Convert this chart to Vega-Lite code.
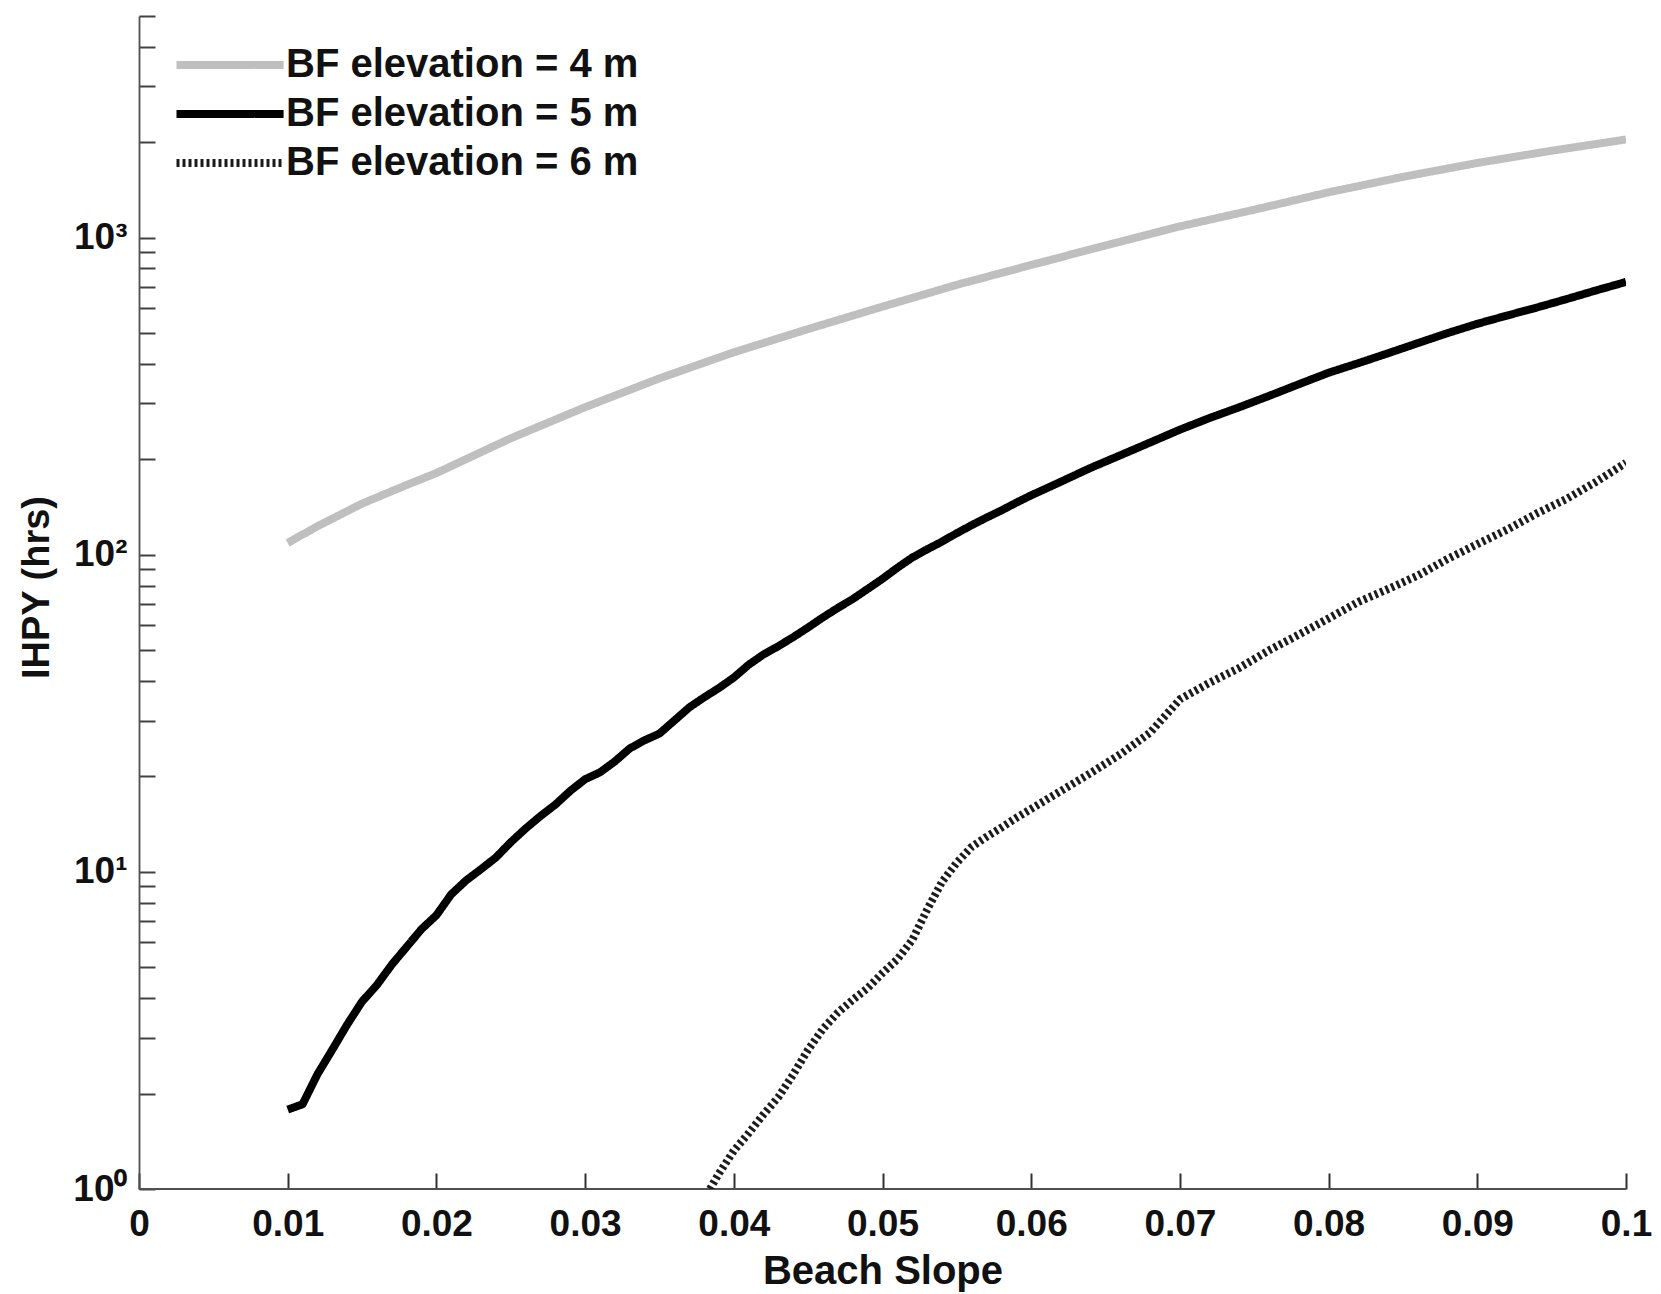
{
  "$schema": "https://vega.github.io/schema/vega-lite/v6.json",
  "width": 1487,
  "height": 1173,
  "autosize": {"type": "none"},
  "padding": {"left": 139, "top": 16, "right": 35, "bottom": 105},
  "background": "white",
  "config": {
    "view": {"stroke": null},
    "font": "Liberation Sans",
    "axis": {
      "grid": false,
      "domainColor": "#505050",
      "tickColor": "#404040",
      "domainWidth": 1.8,
      "tickWidth": 2,
      "labelFont": "Liberation Sans",
      "labelFontWeight": "bold",
      "labelColor": "#111111",
      "titleFont": "Liberation Sans",
      "titleFontWeight": "bold",
      "titleColor": "#111111"
    }
  },
  "data": {
    "values": [
      {"slope": 0.010, "ihpy": 109, "series": "BF elevation = 4 m"},
      {"slope": 0.012, "ihpy": 123, "series": "BF elevation = 4 m"},
      {"slope": 0.015, "ihpy": 145, "series": "BF elevation = 4 m"},
      {"slope": 0.018, "ihpy": 166, "series": "BF elevation = 4 m"},
      {"slope": 0.020, "ihpy": 181, "series": "BF elevation = 4 m"},
      {"slope": 0.025, "ihpy": 233, "series": "BF elevation = 4 m"},
      {"slope": 0.030, "ihpy": 292, "series": "BF elevation = 4 m"},
      {"slope": 0.035, "ihpy": 360, "series": "BF elevation = 4 m"},
      {"slope": 0.040, "ihpy": 435, "series": "BF elevation = 4 m"},
      {"slope": 0.045, "ihpy": 515, "series": "BF elevation = 4 m"},
      {"slope": 0.050, "ihpy": 606, "series": "BF elevation = 4 m"},
      {"slope": 0.055, "ihpy": 710, "series": "BF elevation = 4 m"},
      {"slope": 0.060, "ihpy": 820, "series": "BF elevation = 4 m"},
      {"slope": 0.065, "ihpy": 945, "series": "BF elevation = 4 m"},
      {"slope": 0.070, "ihpy": 1085, "series": "BF elevation = 4 m"},
      {"slope": 0.075, "ihpy": 1225, "series": "BF elevation = 4 m"},
      {"slope": 0.080, "ihpy": 1390, "series": "BF elevation = 4 m"},
      {"slope": 0.085, "ihpy": 1555, "series": "BF elevation = 4 m"},
      {"slope": 0.090, "ihpy": 1720, "series": "BF elevation = 4 m"},
      {"slope": 0.095, "ihpy": 1880, "series": "BF elevation = 4 m"},
      {"slope": 0.100, "ihpy": 2040, "series": "BF elevation = 4 m"},

      {"slope": 0.010, "ihpy": 1.78, "series": "BF elevation = 5 m"},
      {"slope": 0.011, "ihpy": 1.85, "series": "BF elevation = 5 m"},
      {"slope": 0.012, "ihpy": 2.3, "series": "BF elevation = 5 m"},
      {"slope": 0.013, "ihpy": 2.75, "series": "BF elevation = 5 m"},
      {"slope": 0.014, "ihpy": 3.3, "series": "BF elevation = 5 m"},
      {"slope": 0.015, "ihpy": 3.9, "series": "BF elevation = 5 m"},
      {"slope": 0.016, "ihpy": 4.4, "series": "BF elevation = 5 m"},
      {"slope": 0.017, "ihpy": 5.1, "series": "BF elevation = 5 m"},
      {"slope": 0.018, "ihpy": 5.8, "series": "BF elevation = 5 m"},
      {"slope": 0.019, "ihpy": 6.6, "series": "BF elevation = 5 m"},
      {"slope": 0.020, "ihpy": 7.3, "series": "BF elevation = 5 m"},
      {"slope": 0.021, "ihpy": 8.5, "series": "BF elevation = 5 m"},
      {"slope": 0.022, "ihpy": 9.4, "series": "BF elevation = 5 m"},
      {"slope": 0.023, "ihpy": 10.2, "series": "BF elevation = 5 m"},
      {"slope": 0.024, "ihpy": 11.1, "series": "BF elevation = 5 m"},
      {"slope": 0.025, "ihpy": 12.4, "series": "BF elevation = 5 m"},
      {"slope": 0.026, "ihpy": 13.7, "series": "BF elevation = 5 m"},
      {"slope": 0.027, "ihpy": 15.0, "series": "BF elevation = 5 m"},
      {"slope": 0.028, "ihpy": 16.3, "series": "BF elevation = 5 m"},
      {"slope": 0.029, "ihpy": 18.0, "series": "BF elevation = 5 m"},
      {"slope": 0.030, "ihpy": 19.6, "series": "BF elevation = 5 m"},
      {"slope": 0.031, "ihpy": 20.6, "series": "BF elevation = 5 m"},
      {"slope": 0.032, "ihpy": 22.3, "series": "BF elevation = 5 m"},
      {"slope": 0.033, "ihpy": 24.5, "series": "BF elevation = 5 m"},
      {"slope": 0.034, "ihpy": 26.0, "series": "BF elevation = 5 m"},
      {"slope": 0.035, "ihpy": 27.3, "series": "BF elevation = 5 m"},
      {"slope": 0.036, "ihpy": 30.0, "series": "BF elevation = 5 m"},
      {"slope": 0.037, "ihpy": 33.0, "series": "BF elevation = 5 m"},
      {"slope": 0.038, "ihpy": 35.5, "series": "BF elevation = 5 m"},
      {"slope": 0.039, "ihpy": 38.0, "series": "BF elevation = 5 m"},
      {"slope": 0.040, "ihpy": 41.0, "series": "BF elevation = 5 m"},
      {"slope": 0.041, "ihpy": 45.0, "series": "BF elevation = 5 m"},
      {"slope": 0.042, "ihpy": 48.5, "series": "BF elevation = 5 m"},
      {"slope": 0.043, "ihpy": 51.5, "series": "BF elevation = 5 m"},
      {"slope": 0.044, "ihpy": 55.0, "series": "BF elevation = 5 m"},
      {"slope": 0.045, "ihpy": 59.0, "series": "BF elevation = 5 m"},
      {"slope": 0.046, "ihpy": 63.5, "series": "BF elevation = 5 m"},
      {"slope": 0.047, "ihpy": 68.0, "series": "BF elevation = 5 m"},
      {"slope": 0.048, "ihpy": 72.5, "series": "BF elevation = 5 m"},
      {"slope": 0.049, "ihpy": 78.0, "series": "BF elevation = 5 m"},
      {"slope": 0.050, "ihpy": 84.0, "series": "BF elevation = 5 m"},
      {"slope": 0.051, "ihpy": 91.0, "series": "BF elevation = 5 m"},
      {"slope": 0.052, "ihpy": 98.0, "series": "BF elevation = 5 m"},
      {"slope": 0.053, "ihpy": 104, "series": "BF elevation = 5 m"},
      {"slope": 0.054, "ihpy": 110, "series": "BF elevation = 5 m"},
      {"slope": 0.055, "ihpy": 117, "series": "BF elevation = 5 m"},
      {"slope": 0.056, "ihpy": 124, "series": "BF elevation = 5 m"},
      {"slope": 0.057, "ihpy": 131, "series": "BF elevation = 5 m"},
      {"slope": 0.058, "ihpy": 138, "series": "BF elevation = 5 m"},
      {"slope": 0.059, "ihpy": 146, "series": "BF elevation = 5 m"},
      {"slope": 0.060, "ihpy": 154, "series": "BF elevation = 5 m"},
      {"slope": 0.062, "ihpy": 170, "series": "BF elevation = 5 m"},
      {"slope": 0.064, "ihpy": 188, "series": "BF elevation = 5 m"},
      {"slope": 0.066, "ihpy": 206, "series": "BF elevation = 5 m"},
      {"slope": 0.068, "ihpy": 226, "series": "BF elevation = 5 m"},
      {"slope": 0.070, "ihpy": 248, "series": "BF elevation = 5 m"},
      {"slope": 0.072, "ihpy": 270, "series": "BF elevation = 5 m"},
      {"slope": 0.074, "ihpy": 292, "series": "BF elevation = 5 m"},
      {"slope": 0.076, "ihpy": 317, "series": "BF elevation = 5 m"},
      {"slope": 0.078, "ihpy": 345, "series": "BF elevation = 5 m"},
      {"slope": 0.080, "ihpy": 375, "series": "BF elevation = 5 m"},
      {"slope": 0.082, "ihpy": 402, "series": "BF elevation = 5 m"},
      {"slope": 0.084, "ihpy": 432, "series": "BF elevation = 5 m"},
      {"slope": 0.086, "ihpy": 465, "series": "BF elevation = 5 m"},
      {"slope": 0.088, "ihpy": 500, "series": "BF elevation = 5 m"},
      {"slope": 0.090, "ihpy": 535, "series": "BF elevation = 5 m"},
      {"slope": 0.092, "ihpy": 568, "series": "BF elevation = 5 m"},
      {"slope": 0.094, "ihpy": 602, "series": "BF elevation = 5 m"},
      {"slope": 0.096, "ihpy": 640, "series": "BF elevation = 5 m"},
      {"slope": 0.098, "ihpy": 682, "series": "BF elevation = 5 m"},
      {"slope": 0.100, "ihpy": 725, "series": "BF elevation = 5 m"},

      {"slope": 0.0384, "ihpy": 1.0, "series": "BF elevation = 6 m"},
      {"slope": 0.039, "ihpy": 1.12, "series": "BF elevation = 6 m"},
      {"slope": 0.040, "ihpy": 1.32, "series": "BF elevation = 6 m"},
      {"slope": 0.041, "ihpy": 1.5, "series": "BF elevation = 6 m"},
      {"slope": 0.042, "ihpy": 1.72, "series": "BF elevation = 6 m"},
      {"slope": 0.043, "ihpy": 1.95, "series": "BF elevation = 6 m"},
      {"slope": 0.044, "ihpy": 2.3, "series": "BF elevation = 6 m"},
      {"slope": 0.045, "ihpy": 2.75, "series": "BF elevation = 6 m"},
      {"slope": 0.046, "ihpy": 3.2, "series": "BF elevation = 6 m"},
      {"slope": 0.047, "ihpy": 3.6, "series": "BF elevation = 6 m"},
      {"slope": 0.048, "ihpy": 3.95, "series": "BF elevation = 6 m"},
      {"slope": 0.049, "ihpy": 4.3, "series": "BF elevation = 6 m"},
      {"slope": 0.050, "ihpy": 4.8, "series": "BF elevation = 6 m"},
      {"slope": 0.051, "ihpy": 5.3, "series": "BF elevation = 6 m"},
      {"slope": 0.052, "ihpy": 6.1, "series": "BF elevation = 6 m"},
      {"slope": 0.053, "ihpy": 7.6, "series": "BF elevation = 6 m"},
      {"slope": 0.054, "ihpy": 9.3, "series": "BF elevation = 6 m"},
      {"slope": 0.055, "ihpy": 10.7, "series": "BF elevation = 6 m"},
      {"slope": 0.056, "ihpy": 12.0, "series": "BF elevation = 6 m"},
      {"slope": 0.057, "ihpy": 12.9, "series": "BF elevation = 6 m"},
      {"slope": 0.058, "ihpy": 13.8, "series": "BF elevation = 6 m"},
      {"slope": 0.059, "ihpy": 14.8, "series": "BF elevation = 6 m"},
      {"slope": 0.060, "ihpy": 15.8, "series": "BF elevation = 6 m"},
      {"slope": 0.062, "ihpy": 18.0, "series": "BF elevation = 6 m"},
      {"slope": 0.064, "ihpy": 20.5, "series": "BF elevation = 6 m"},
      {"slope": 0.066, "ihpy": 23.5, "series": "BF elevation = 6 m"},
      {"slope": 0.068, "ihpy": 27.5, "series": "BF elevation = 6 m"},
      {"slope": 0.070, "ihpy": 35.0, "series": "BF elevation = 6 m"},
      {"slope": 0.072, "ihpy": 39.5, "series": "BF elevation = 6 m"},
      {"slope": 0.074, "ihpy": 44.0, "series": "BF elevation = 6 m"},
      {"slope": 0.076, "ihpy": 50.0, "series": "BF elevation = 6 m"},
      {"slope": 0.078, "ihpy": 56.0, "series": "BF elevation = 6 m"},
      {"slope": 0.080, "ihpy": 63.0, "series": "BF elevation = 6 m"},
      {"slope": 0.082, "ihpy": 71.0, "series": "BF elevation = 6 m"},
      {"slope": 0.084, "ihpy": 78.0, "series": "BF elevation = 6 m"},
      {"slope": 0.086, "ihpy": 86.0, "series": "BF elevation = 6 m"},
      {"slope": 0.088, "ihpy": 97.0, "series": "BF elevation = 6 m"},
      {"slope": 0.090, "ihpy": 108, "series": "BF elevation = 6 m"},
      {"slope": 0.092, "ihpy": 120, "series": "BF elevation = 6 m"},
      {"slope": 0.094, "ihpy": 135, "series": "BF elevation = 6 m"},
      {"slope": 0.096, "ihpy": 150, "series": "BF elevation = 6 m"},
      {"slope": 0.098, "ihpy": 170, "series": "BF elevation = 6 m"},
      {"slope": 0.100, "ihpy": 195, "series": "BF elevation = 6 m"}
    ]
  },
  "layer": [
    {
      "mark": {"type": "rule", "color": "#505050", "strokeWidth": 1.8},
      "encoding": {
        "y": {
          "datum": 1, "type": "quantitative",
          "scale": {"type": "log", "domain": [1, 5000], "nice": false},
          "axis": {
            "orient": "left",
            "title": "IHPY (hrs)",
            "values": [1, 2, 3, 4, 5, 6, 7, 8, 9, 10, 20, 30, 40, 50, 60, 70, 80, 90, 100, 200, 300, 400, 500, 600, 700, 800, 900, 1000, 2000, 3000, 4000, 5000],
            "labelExpr": "indexof([1, 10, 100, 1000], datum.value) >= 0 ? '10' + ['⁰','¹','²','³'][round(log(datum.value)/LN10)] : ''",
            "tickSize": -16,
            "labelFontSize": 37,
            "labelPadding": 28,
            "labelFlush": false,
            "labelOverlap": false,
            "titleFontSize": 38,
            "titlePadding": 16,
            "titleY": 571,
            "encode": {"ticks": {"update": {"x": {"value": 0}, "x2": {"signal": "indexof([1, 10, 100, 1000], datum.value) >= 0 ? 16 : 8"}}}}
          }
        }
      }
    },
    {
      "mark": {"type": "line", "strokeWidth": 8, "strokeCap": "butt", "strokeJoin": "round", "clip": true},
      "encoding": {
        "x": {
          "field": "slope", "type": "quantitative",
          "scale": {"domain": [0, 0.1], "nice": false, "zero": false},
          "axis": {
            "title": "Beach Slope",
            "values": [0, 0.01, 0.02, 0.03, 0.04, 0.05, 0.06, 0.07, 0.08, 0.09, 0.1],
            "format": "~g",
            "ticks": true,
            "domain": false,
            "offset": -16,
            "tickSize": 16,
            "tickColor": "#303030",
            "labelFontSize": 37,
            "labelPadding": 17,
            "labelFlush": false,
            "titleFontSize": 40,
            "titlePadding": 9
          }
        },
        "y": {
          "field": "ihpy", "type": "quantitative",
          "scale": {"type": "log", "domain": [1, 5000], "nice": false},
          "axis": {
            "orient": "left",
            "title": "IHPY (hrs)",
            "values": [1, 2, 3, 4, 5, 6, 7, 8, 9, 10, 20, 30, 40, 50, 60, 70, 80, 90, 100, 200, 300, 400, 500, 600, 700, 800, 900, 1000, 2000, 3000, 4000, 5000],
            "labelExpr": "indexof([1, 10, 100, 1000], datum.value) >= 0 ? '10' + ['⁰','¹','²','³'][round(log(datum.value)/LN10)] : ''",
            "tickSize": -16,
            "labelFontSize": 37,
            "labelPadding": 28,
            "labelFlush": false,
            "labelOverlap": false,
            "titleFontSize": 38,
            "titlePadding": 16,
            "titleY": 571,
            "encode": {"ticks": {"update": {"x": {"value": 0}, "x2": {"signal": "indexof([1, 10, 100, 1000], datum.value) >= 0 ? 16 : 8"}}}}
          }
        },
        "color": {
          "field": "series", "type": "nominal",
          "scale": {
            "domain": ["BF elevation = 4 m", "BF elevation = 5 m", "BF elevation = 6 m"],
            "range": ["#bfbfbf", "#000000", "#1c1c1c"]
          },
          "legend": {
            "title": null,
            "orient": "none",
            "legendX": 28,
            "legendY": 29,
            "direction": "vertical",
            "symbolType": "M-1,0H9.2",
            "symbolSize": 441,
            "symbolStrokeWidth": 8,
            "labelFont": "Liberation Sans",
            "labelFontWeight": "bold",
            "labelFontSize": 40,
            "labelColor": "#111111",
            "labelOffset": 79,
            "rowPadding": 9,
            "padding": 0,
            "fillColor": "white",
            "labelLimit": 600
          }
        },
        "strokeDash": {
          "field": "series", "type": "nominal",
          "scale": {
            "domain": ["BF elevation = 4 m", "BF elevation = 5 m", "BF elevation = 6 m"],
            "range": [[1, 0], [1, 0], [3, 3]]
          },
          "legend": {
            "title": null,
            "orient": "none",
            "legendX": 28,
            "legendY": 29,
            "direction": "vertical",
            "symbolType": "M-1,0H9.2",
            "symbolSize": 441,
            "symbolStrokeWidth": 8,
            "labelFont": "Liberation Sans",
            "labelFontWeight": "bold",
            "labelFontSize": 40,
            "labelColor": "#111111",
            "labelOffset": 79,
            "rowPadding": 9,
            "padding": 0,
            "fillColor": "white",
            "labelLimit": 600
          }
        }
      }
    }
  ]
}
